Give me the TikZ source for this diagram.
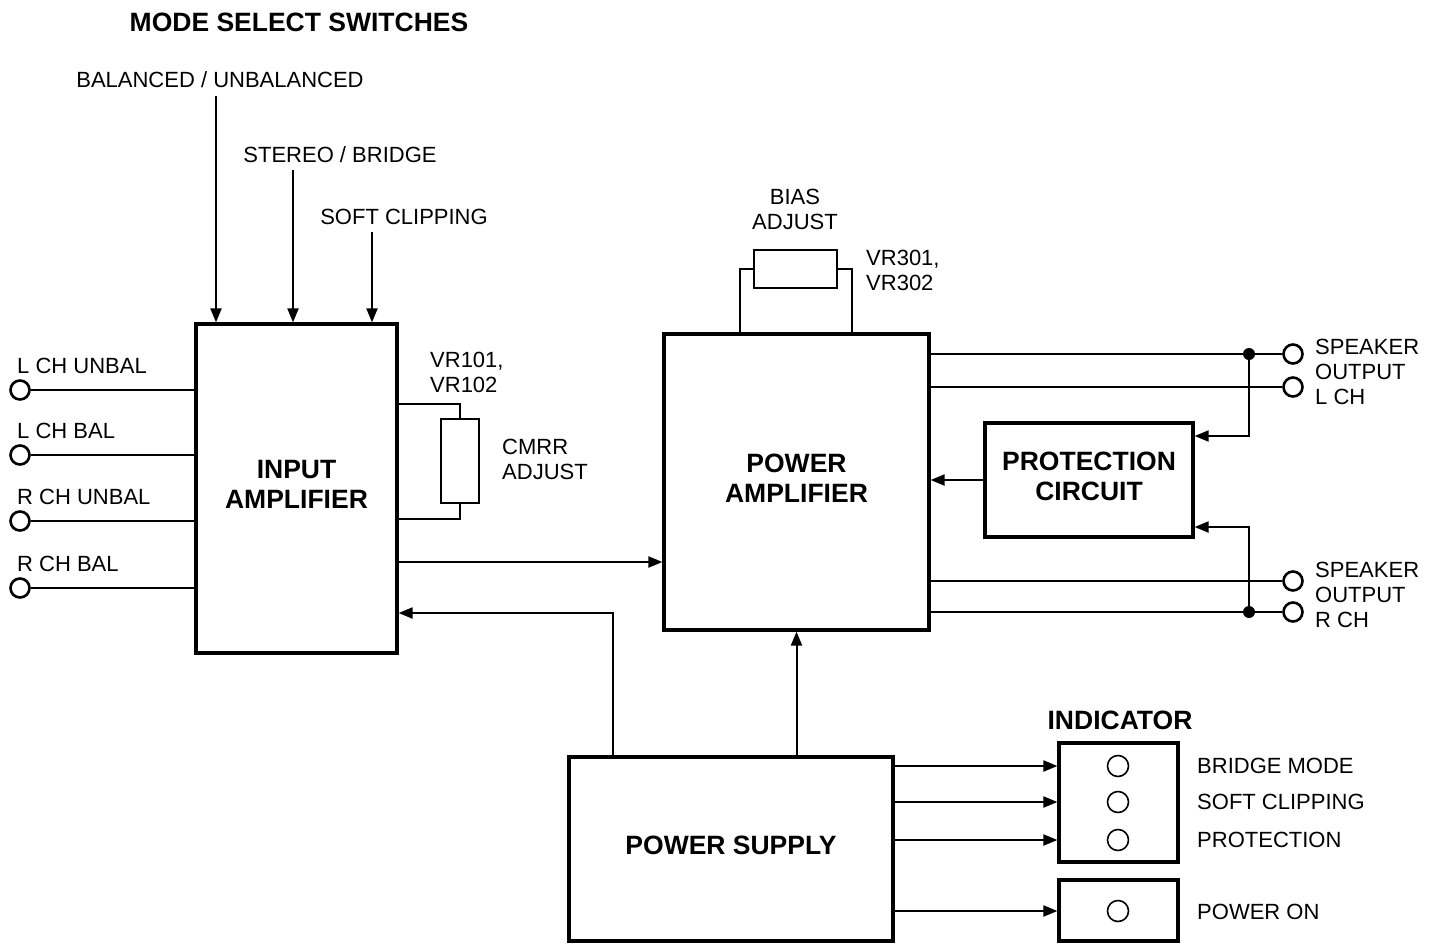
\documentclass[tikz,border=0pt]{standalone}
\usepackage{fontspec}
\setmainfont{Liberation Sans}
\usetikzlibrary{arrows.meta}
\tikzset{
    box/.style={draw, line width=3.2pt, inner sep=0pt, align=center, text depth=8pt, font=\bfseries\fontsize{26.5}{30}\selectfont},
    ttl/.style={inner sep=0pt, font=\bfseries\fontsize{26.5}{30}\selectfont},
    trim/.style={draw, line width=2pt, inner sep=0pt},
    lbl/.style={inner sep=0pt, align=left, font=\fontsize{22}{25}\selectfont},
    jack/.style={circle, draw, line width=2.6pt, minimum size=19pt, inner sep=0pt},
    lamp/.style={circle, draw, line width=1.6pt, minimum size=21pt, inner sep=0pt},
    dot/.style={circle, fill, minimum size=12pt, inner sep=0pt},
    wire/.style={line width=2pt},
    lead/.style={line width=1.5pt},
    arr/.style={line width=2pt, -{Triangle[length=14pt,width=11pt]}},
}
\begin{document}
\begin{tikzpicture}[x=1pt, y=-1pt]
    \useasboundingbox (0,0) rectangle (1440,943);
    % blocks
    \node[box, minimum width=201pt, minimum height=329pt] (inamp) at (296.5,488.5) {INPUT\\AMPLIFIER};
    \node[box, minimum width=265pt, minimum height=296pt] (pamp) at (796.5,482) {POWER\\AMPLIFIER};
    \node[box, minimum width=208pt, minimum height=114pt] (prot) at (1089,480) {PROTECTION\\CIRCUIT};
    \node[box, minimum width=324pt, minimum height=184pt] (psu) at (731,849) {POWER SUPPLY};
    \node[box, minimum width=119pt, minimum height=119pt] (ind) at (1118.5,802.5) {};
    \node[box, minimum width=119pt, minimum height=61pt] (pon) at (1118.5,910.5) {};
    % titles
    \node[ttl] (mode) at (299,22) {MODE SELECT SWITCHES};
    \node[ttl] (indt) at (1120,720) {INDICATOR};

    % mode switches
    \node[lbl] (bal) at (220,80) {BALANCED / UNBALANCED};
    \node[lbl] (stb) at (340,155) {STEREO / BRIDGE};
    \node[lbl] (sfc) at (404,217) {SOFT CLIPPING};
    \coordinate (s1) at (216,96);
    \coordinate (s2) at (293,170);
    \coordinate (s3) at (372,232);
    \foreach \s in {s1,s2,s3}
        \draw[arr] (\s) -- (\s |- inamp.north);

    % inputs
    \foreach \n/\y/\t in {lu/390/L CH UNBAL, lb/455/L CH BAL, ru/521/R CH UNBAL, rb/588/R CH BAL} {
        \node[jack] (\n) at (20,\y) {};
        \node[lbl, anchor=west] (t\n) at (17,{\y-24}) {\t};
        \draw[wire] (\n) -- (\n -| inamp.west);
    }

    % cmrr trimmer
    \node[trim, minimum width=38pt, minimum height=84pt] (cmrr) at (460,461) {};
    \draw[lead] (cmrr.north) -- ++(0,-14) coordinate (c1) -- (c1 -| inamp.east);
    \draw[lead] (cmrr.south) -- ++(0,15) coordinate (c2) -- (c2 -| inamp.east);
    \node[lbl, anchor=west] (vr1) at (430,372) {VR101,\\VR102};
    \node[lbl, anchor=west] (cmrrt) at (502,459) {CMRR\\ADJUST};

    % bias trimmer
    \node[trim, minimum width=83pt, minimum height=38pt] (bias) at (795.5,269) {};
    \draw[lead] (bias.west) -- ++(-13,0) coordinate (b1) -- (b1 |- pamp.north);
    \draw[lead] (bias.east) -- ++(14,0) coordinate (b2) -- (b2 |- pamp.north);
    \node[lbl, align=center] (biast) at (795,209) {BIAS\\ADJUST};
    \node[lbl, anchor=west] (vr3) at (866,270) {VR301,\\VR302};

    % signal path
    \draw[arr] (inamp.east |- 0,562) -- (pamp.west |- 0,562);
    \draw[arr] (psu.north -| 613,0) |- (inamp.east |- 0,613);
    \draw[arr] (psu.north -| pamp.south) -- (pamp.south);
    \draw[arr] (prot.west) -- (prot.west -| pamp.east);

    % speaker outputs
    \foreach \n/\y in {oa/354, ob/387, oc/581, od/612} {
        \node[jack] (\n) at (1293,\y) {};
        \draw[wire] (\n -| pamp.east) -- (\n);
    }
    \node[dot] (dl) at (1249,354) {};
    \node[dot] (dr) at (1249,612) {};
    \draw[arr] (dl) |- (prot.east |- 0,436);
    \draw[arr] (dr) |- (prot.east |- 0,527);
    \node[lbl, anchor=west] (spl) at (1315,372) {SPEAKER\\OUTPUT\\L CH};
    \node[lbl, anchor=west] (spr) at (1315,595) {SPEAKER\\OUTPUT\\R CH};

    % indicators
    \foreach \n/\y/\t in {la/766/BRIDGE MODE, lc/802/SOFT CLIPPING, lp/840/PROTECTION} {
        \node[lamp] (\n) at (1118,\y) {};
        \node[lbl, anchor=west] (t\n) at (1197,\y) {\t};
        \draw[arr] (psu.east |- \n) -- (ind.west |- \n);
    }
    \node[lamp] (lo) at (1118,911) {};
    \node[lbl, anchor=west] (tlo) at (1197,912) {POWER ON};
    \draw[arr] (psu.east |- lo) -- (pon.west |- lo);
\end{tikzpicture}
\end{document}
